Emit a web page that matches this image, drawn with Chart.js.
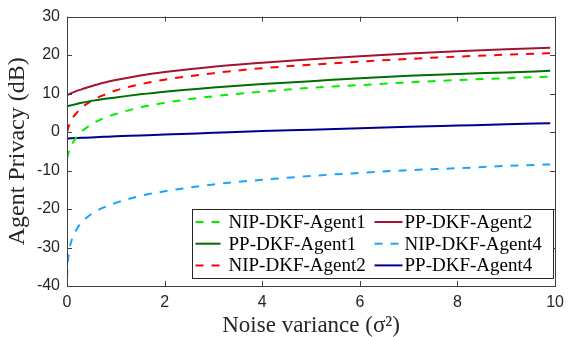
<!DOCTYPE html>
<html>
<head>
<meta charset="utf-8">
<script src="https://cdn.jsdelivr.net/npm/chart.js@4.4.0/dist/chart.umd.min.js"></script>
<style>
  html, body { margin: 0; padding: 0; background: #fff; }
</style>
</head>
<body>
<canvas id="chart" width="571" height="337"></canvas>
<script>
// x samples (noise variance sigma^2)
const noiseVar = [0, 0.02, 0.05, 0.1, 0.2, 0.3, 0.5, 0.75, 1, 1.5, 2, 3, 4, 5, 6, 7, 8, 9, 9.9];

// agent privacy in dB
const nipAgent1 = [-6.9, -5.9, -4.7, -3.2, -1.2, 0.1, 2.0, 3.6, 4.7, 6.4, 7.6, 9.3, 10.5, 11.5, 12.2, 12.9, 13.5, 14.0, 14.4];
const ppAgent1  = [6.7, 6.75, 6.85, 7.0, 7.3, 7.6, 8.1, 8.6, 9.0, 9.8, 10.5, 11.6, 12.5, 13.2, 14.0, 14.6, 15.1, 15.5, 15.9];
const nipAgent2 = [0.0, 0.9, 2.0, 3.4, 5.0, 6.3, 8.1, 9.6, 10.8, 12.4, 13.6, 15.3, 16.6, 17.5, 18.3, 19.0, 19.6, 20.1, 20.5];
const ppAgent2  = [9.6, 9.7, 9.9, 10.2, 10.7, 11.1, 11.9, 12.8, 13.5, 14.7, 15.6, 17.0, 18.0, 18.9, 19.7, 20.4, 21.0, 21.5, 21.9];
const nipAgent4 = [-38.0, -33.5, -30.5, -27.9, -25.2, -23.5, -21.3, -19.6, -18.4, -16.6, -15.4, -13.6, -12.4, -11.4, -10.6, -9.9, -9.4, -8.8, -8.4];
const ppAgent4  = [-1.7, -1.68, -1.65, -1.6, -1.55, -1.5, -1.4, -1.25, -1.1, -0.9, -0.65, -0.2, 0.25, 0.6, 1.0, 1.4, 1.7, 2.0, 2.3];

const seriesNames = ['NIP-DKF-Agent1', 'PP-DKF-Agent1', 'NIP-DKF-Agent2', 'PP-DKF-Agent2', 'NIP-DKF-Agent4', 'PP-DKF-Agent4'];
const xTicks = [0, 2, 4, 6, 8, 10];
const yTicks = [-40, -30, -20, -10, 0, 10, 20, 30];

const axisColor = '#404040';
const textColor = '#262626';
const dash = [8, 8];

const toPoints = ys => ys.map((y, i) => ({ x: noiseVar[i], y: y }));

function line(label, ys, color, dashed) {
  return {
    label: label,
    data: toPoints(ys),
    borderColor: color,
    backgroundColor: color,
    borderWidth: 2,
    borderDash: dashed ? dash : [],
    pointRadius: 0,
    cubicInterpolationMode: 'monotone',
    fill: false,
  };
}

// box, inward ticks and legend drawn in MATLAB style
const matlabAxes = {
  id: 'matlabAxes',
  afterDraw(chart) {
    const ctx = chart.ctx;
    const a = chart.chartArea;
    const xs = chart.scales.x, ys = chart.scales.y;
    ctx.save();
    ctx.strokeStyle = axisColor;
    ctx.lineWidth = 1;
    ctx.strokeRect(Math.round(a.left) + 0.5, Math.round(a.top) + 0.5,
      Math.round(a.right - a.left), Math.round(a.bottom - a.top));
    ctx.beginPath();
    xTicks.forEach(v => {
      const px = Math.round(xs.getPixelForValue(v)) + 0.5;
      ctx.moveTo(px, a.bottom); ctx.lineTo(px, a.bottom - 5);
      ctx.moveTo(px, a.top); ctx.lineTo(px, a.top + 5);
    });
    yTicks.forEach(v => {
      const py = Math.round(ys.getPixelForValue(v)) + 0.5;
      ctx.moveTo(a.left, py); ctx.lineTo(a.left + 5, py);
      ctx.moveTo(a.right, py); ctx.lineTo(a.right - 5, py);
    });
    ctx.stroke();

    // legend, southeast
    const lw = 361, lh = 69;
    const lx = Math.round(a.right - 2 - lw) + 0.5;
    const ly = Math.round(a.bottom - 8 - lh) + 0.5;
    ctx.fillStyle = '#fff';
    ctx.fillRect(lx, ly, lw, lh);
    ctx.strokeStyle = '#262626';
    ctx.strokeRect(lx, ly, lw, lh);
    ctx.font = '19px "Liberation Serif", serif';
    ctx.textBaseline = 'middle';
    ctx.textAlign = 'left';
    const cols = [[0, 1, 2], [3, 4, 5]];
    const colLine = [[3, 28, 36], [182, 210, 212]];
    cols.forEach((col, c) => {
      col.forEach((di, r) => {
        const ds = chart.data.datasets[di];
        const y = ly + 12.5 + r * 21.7;
        ctx.strokeStyle = ds.borderColor;
        ctx.lineWidth = 2;
        ctx.setLineDash(ds.borderDash);
        ctx.beginPath();
        ctx.moveTo(lx + colLine[c][0], y);
        ctx.lineTo(lx + colLine[c][1], y);
        ctx.stroke();
        ctx.setLineDash([]);
        ctx.fillStyle = '#000';
        ctx.fillText(ds.label, lx + colLine[c][2], y + 1);
      });
    });
    ctx.restore();
  }
};

new Chart(document.getElementById('chart'), {
  type: 'line',
  data: {
    datasets: [
      line(seriesNames[0], nipAgent1, '#00ee00', true),
      line(seriesNames[1], ppAgent1, '#006e00', false),
      line(seriesNames[2], nipAgent2, '#ff0000', true),
      line(seriesNames[3], ppAgent2, '#a2142f', false),
      line(seriesNames[4], nipAgent4, '#1aa3ff', true),
      line(seriesNames[5], ppAgent4, '#00008b', false),
    ],
  },
  options: {
    responsive: false,
    animation: false,
    layout: { padding: { top: 13, right: 11, left: 0, bottom: 0 } },
    plugins: { legend: { display: false }, tooltip: { enabled: false } },
    scales: {
      x: {
        type: 'linear',
        min: 0, max: 10,
        afterBuildTicks: s => { s.ticks = xTicks.map(v => ({ value: v })); },
        afterFit: s => { s.height = 51; },
        grid: { display: false, drawTicks: false },
        border: { display: false },
        ticks: { color: textColor, padding: 7, maxRotation: 0, font: { family: '"Liberation Sans", Arial, sans-serif', size: 16 } },
        title: {
          display: true,
          text: 'Noise variance (σ²)',
          color: textColor,
          padding: { top: 0, bottom: -3 },
          font: { family: '"Liberation Serif", serif', size: 23 },
        },
      },
      y: {
        min: -40, max: 30,
        afterBuildTicks: s => { s.ticks = yTicks.map(v => ({ value: v })); },
        afterFit: s => { s.width = 67; },
        grid: { display: false, drawTicks: false },
        border: { display: false },
        ticks: { color: textColor, padding: 7, font: { family: '"Liberation Sans", Arial, sans-serif', size: 16 } },
        title: {
          display: true,
          text: 'Agent Privacy (dB)',
          color: textColor,
          padding: { top: 3, bottom: 0 },
          font: { family: '"Liberation Serif", serif', size: 24 },
        },
      },
    },
  },
  plugins: [matlabAxes],
});
</script>
</body>
</html>
